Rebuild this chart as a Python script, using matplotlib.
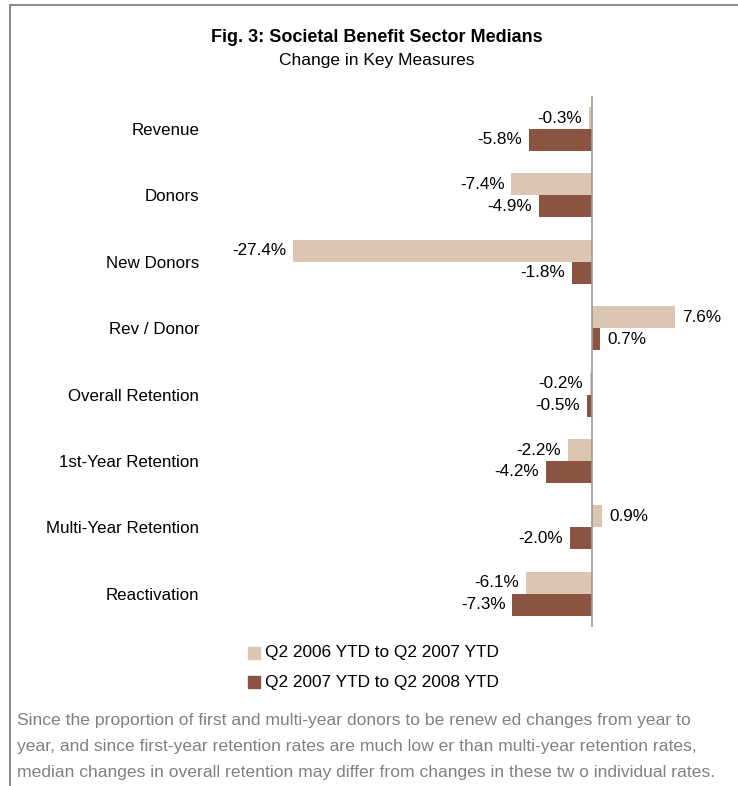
import matplotlib.pyplot as plt
from matplotlib.patches import Rectangle

# data
categories = ['Revenue', 'Donors', 'New Donors', 'Rev / Donor', 'Overall Retention',
              '1st-Year Retention', 'Multi-Year Retention', 'Reactivation']
change_06_07 = [-0.3, -7.4, -27.4, 7.6, -0.2, -2.2, 0.9, -6.1]
change_07_08 = [-5.8, -4.9, -1.8, 0.7, -0.5, -4.2, -2.0, -7.3]
series_names = ['Q2 2006 YTD to Q2 2007 YTD', 'Q2 2007 YTD to Q2 2008 YTD']

light = '#dcc6b1'
dark = '#8b5442'
font = 'Liberation Sans'
W, H = 738, 786

plt.rcParams['font.family'] = [font, 'DejaVu Sans']

fig = plt.figure(figsize=(W / 100, H / 100), dpi=100)

# outer frame (left and top edges)
fig.add_artist(plt.Line2D([10 / W, 10 / W], [0, 1 - 5 / H], color='#8c8c8c', lw=1.5))
fig.add_artist(plt.Line2D([10 / W, 1], [1 - 5 / H, 1 - 5 / H], color='#8c8c8c', lw=1.5))

fig.text(377 / W, 1 - 37 / H, 'Fig. 3: Societal Benefit Sector Medians', ha='center', va='center',
         fontsize=13, fontweight='bold')
fig.text(377 / W, 1 - 60 / H, 'Change in Key Measures', ha='center', va='center', fontsize=12.5)

left_px, right_px = 254, 712
top_px, bot_px = 95.8, 627
ax = fig.add_axes([left_px / W, 1 - bot_px / H, (right_px - left_px) / W, (bot_px - top_px) / H])

y = list(range(len(categories)))
h = 0.33
y1 = [v - h / 2 for v in y]
y2 = [v + h / 2 for v in y]
ax.barh(y1, change_06_07, height=h, color=light, label=series_names[0])
ax.barh(y2, change_07_08, height=h, color=dark, label=series_names[1])
ax.axvline(0, color='#9a9a9a', lw=1.2)

for ys, vals in [(y1, change_06_07), (y2, change_07_08)]:
    for yy, v in zip(ys, vals):
        off = 5.5 if v >= 0 else -5
        ax.annotate(f'{v:.1f}%', (v, yy), xytext=(off, 0), textcoords='offset points',
                    ha='left' if v >= 0 else 'right', va='center', fontsize=12.3)

ax.set_xlim(-31, 11)
ax.set_ylim(7.5, -0.5)
ax.set_yticks(y)
ax.set_yticklabels(categories, fontsize=12.2)
ax.tick_params(axis='y', length=0, pad=39.5)
ax.set_xticks([])
for s in ax.spines.values():
    s.set_visible(False)

# legend
for i, (name, col) in enumerate(zip(series_names, [light, dark])):
    cy = 653 + 29 * i
    fig.add_artist(Rectangle((248 / W, 1 - (cy + 6) / H), 12 / W, 12 / H, color=col))
    fig.text(265 / W, 1 - cy / H, name, ha='left', va='center', fontsize=12.4)

notes = ['Since the proportion of first and multi-year donors to be renew ed changes from year to',
         'year, and since first-year retention rates are much low er than multi-year retention rates,',
         'median changes in overall retention may differ from changes in these tw o individual rates.']
for i, line in enumerate(notes):
    fig.text(17 / W, 1 - (720 + 26 * i) / H, line, ha='left', va='center', fontsize=12.6, color='#808080')

fig.savefig('out.png', dpi=100)
